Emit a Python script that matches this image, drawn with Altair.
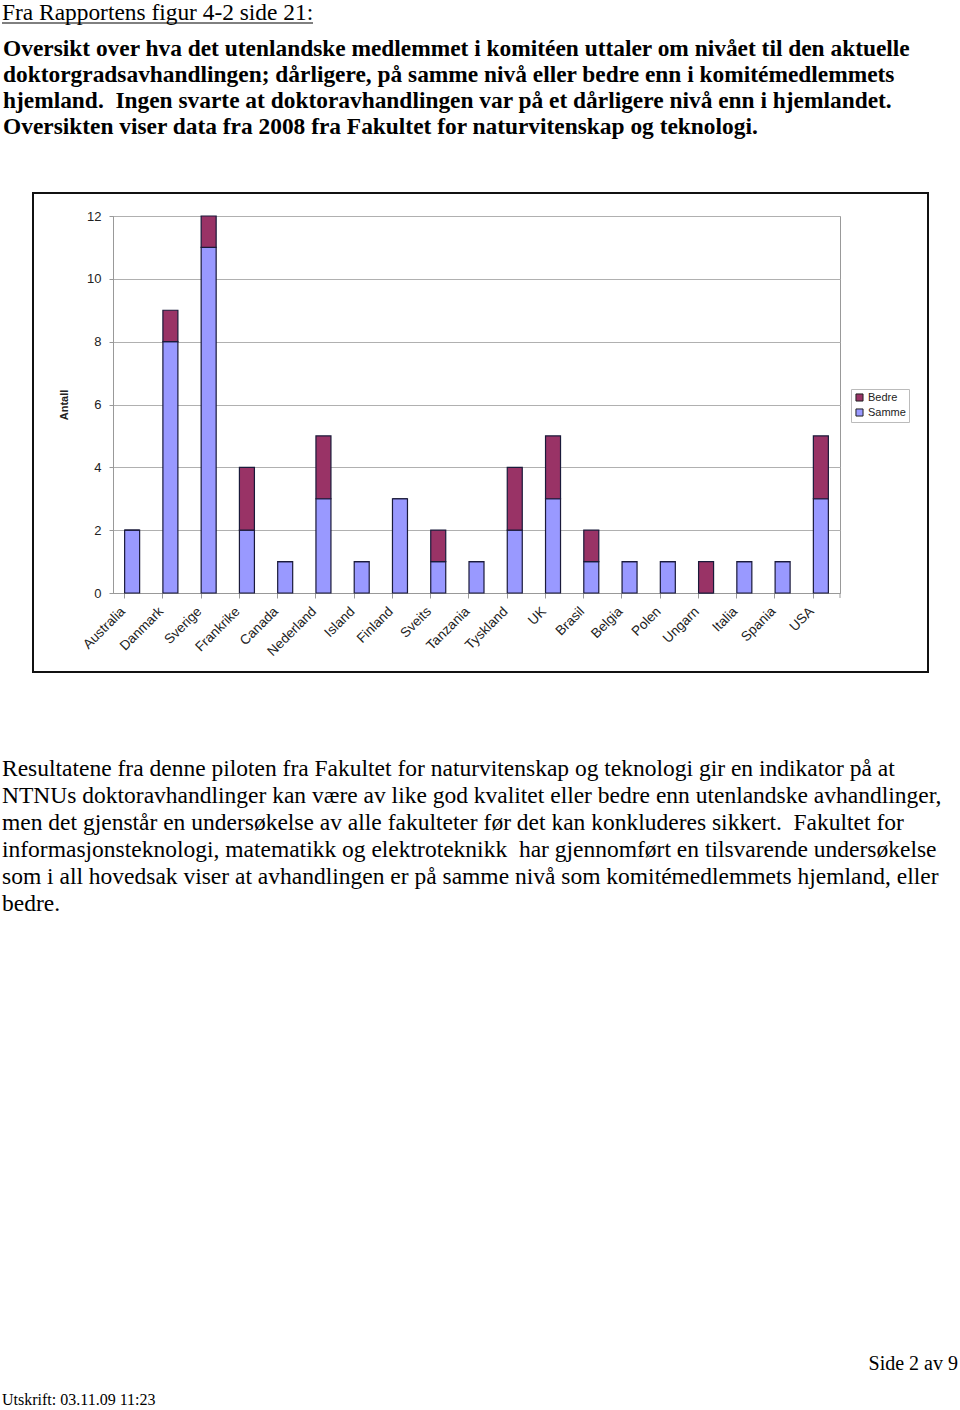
import altair as alt
import pandas as pd

countries = ["Australia", "Danmark", "Sverige", "Frankrike", "Canada", "Nederland",
             "Island", "Finland", "Sveits", "Tanzania", "Tyskland", "UK", "Brasil",
             "Belgia", "Polen", "Ungarn", "Italia", "Spania", "USA"]
samme = [2, 8, 11, 2, 1, 3, 1, 3, 1, 1, 2, 3, 1, 1, 1, 0, 1, 1, 3]
bedre = [0, 1, 1, 2, 0, 2, 0, 0, 1, 0, 2, 2, 1, 0, 0, 1, 0, 0, 2]
series = ["Bedre", "Samme"]
series_colors = ["#993366", "#9999FF"]
y_ticks = [0, 2, 4, 6, 8, 10, 12]

NB = "\u00a0"
heading = "Fra Rapportens figur 4-2 side 21:"
intro_lines = [
    "Oversikt over hva det utenlandske medlemmet i komitéen uttaler om nivået til den aktuelle",
    "doktorgradsavhandlingen; dårligere, på samme nivå eller bedre enn i komitémedlemmets",
    "hjemland." + NB + " Ingen svarte at doktoravhandlingen var på et dårligere nivå enn i hjemlandet.",
    "Oversikten viser data fra 2008 fra Fakultet for naturvitenskap og teknologi.",
]
body_lines = [
    "Resultatene fra denne piloten fra Fakultet for naturvitenskap og teknologi gir en indikator på at",
    "NTNUs doktoravhandlinger kan være av like god kvalitet eller bedre enn utenlandske avhandlinger,",
    "men det gjenstår en undersøkelse av alle fakulteter før det kan konkluderes sikkert." + NB + " Fakultet for",
    "informasjonsteknologi, matematikk og elektroteknikk" + NB + " har gjennomført en tilsvarende undersøkelse",
    "som i all hovedsak viser at avhandlingen er på samme nivå som komitémedlemmets hjemland, eller",
    "bedre.",
]
page_label = "Side 2 av 9"
print_label = "Utskrift: 03.11.09 11:23"

rows = []
for c, s, b in zip(countries, samme, bedre):
    rows.append({"Land": c, "Type": "Samme", "Antall": s, "ord": 0})
    rows.append({"Land": c, "Type": "Bedre", "Antall": b, "ord": 1})
df = pd.DataFrame(rows)

PW, PH = 727, 377

bars = alt.Chart(df).mark_bar(stroke="#1a1a3a", strokeWidth=1.2, size=15).encode(
    x=alt.X("Land:N", sort=countries, title=None,
            scale=alt.Scale(paddingInner=0.6, paddingOuter=0.3),
            axis=alt.Axis(labelAngle=-45, labelAlign="right", labelBaseline="top",
                          labelFont="Liberation Sans", labelFontSize=13.6, labelColor="#222",
                          labelPadding=6, bandPosition=0, labelOffset=-14,
                          tickColor="#999", tickSize=5, domainColor="#999", grid=False)),
    y=alt.Y("Antall:Q", stack="zero", title="Antall",
            scale=alt.Scale(domain=[0, 12], nice=False),
            axis=alt.Axis(values=y_ticks, labelFont="Liberation Sans", labelFontSize=13,
                          labelColor="#222", labelPadding=8, tickColor="#999", tickSize=4,
                          domainColor="#999", gridColor="#b0b0b0",
                          titleFont="Liberation Sans", titleFontSize=11, titleFontWeight="bold",
                          titleColor="#222", titlePadding=17)),
    color=alt.Color("Type:N", scale=alt.Scale(domain=series, range=series_colors),
                    legend=alt.Legend(title=None, orient="none", legendX=738, legendY=173,
                                      strokeColor="#bbb", padding=3, labelFont="Liberation Sans",
                                      labelFontSize=11, labelColor="#222", symbolType="square",
                                      symbolSize=50, symbolStrokeColor="#222",
                                      symbolStrokeWidth=1, rowPadding=2, labelOffset=3)),
    order=alt.Order("ord:Q"),
)

one = pd.DataFrame({"k": [0]})

end_tick = alt.Chart(one).mark_rule(color="#999", strokeWidth=1).encode(
    x=alt.value(PW), y=alt.value(PH), y2=alt.value(PH + 5))

frame = alt.Chart(one).mark_rect(fill=None, stroke="#111", strokeWidth=2).encode(
    x=alt.value(-80), x2=alt.value(815), y=alt.value(-23), y2=alt.value(456))

head = alt.Chart(one).mark_text(text=heading, font="Liberation Serif", fontSize=23.4,
                                align="left", baseline="alphabetic", color="#000").encode(
    x=alt.value(-111), y=alt.value(-196))
underline = alt.Chart(one).mark_rule(color="#000", strokeWidth=1).encode(
    x=alt.value(-111), x2=alt.value(200), y=alt.value(-193))

intro = alt.Chart(one).mark_text(text=intro_lines, font="Liberation Serif", fontSize=23.4,
                                 fontWeight="bold", lineHeight=26, align="left",
                                 baseline="alphabetic", color="#000").encode(
    x=alt.value(-110), y=alt.value(-160))

body = alt.Chart(one).mark_text(text=body_lines, font="Liberation Serif", fontSize=23.5,
                                lineHeight=27, align="left", baseline="alphabetic",
                                color="#000").encode(
    x=alt.value(-111), y=alt.value(560))

side = alt.Chart(one).mark_text(text=page_label, font="Liberation Serif", fontSize=20,
                                align="right", baseline="alphabetic", color="#000").encode(
    x=alt.value(845), y=alt.value(1154))

printed = alt.Chart(one).mark_text(text=print_label, font="Liberation Serif", fontSize=16,
                                   align="left", baseline="alphabetic", color="#000").encode(
    x=alt.value(-111), y=alt.value(1189))

chart = alt.layer(bars, end_tick, frame, head, underline, intro, body, side, printed).properties(
    width=PW, height=PH,
    autosize=alt.AutoSizeParams(type="none"),
    padding={"left": 113, "top": 216, "right": 120, "bottom": 817},
    background="white",
).configure_view(stroke="#999", strokeWidth=1)

chart.save("out.html", embed_options={"renderer": "svg", "actions": False})
